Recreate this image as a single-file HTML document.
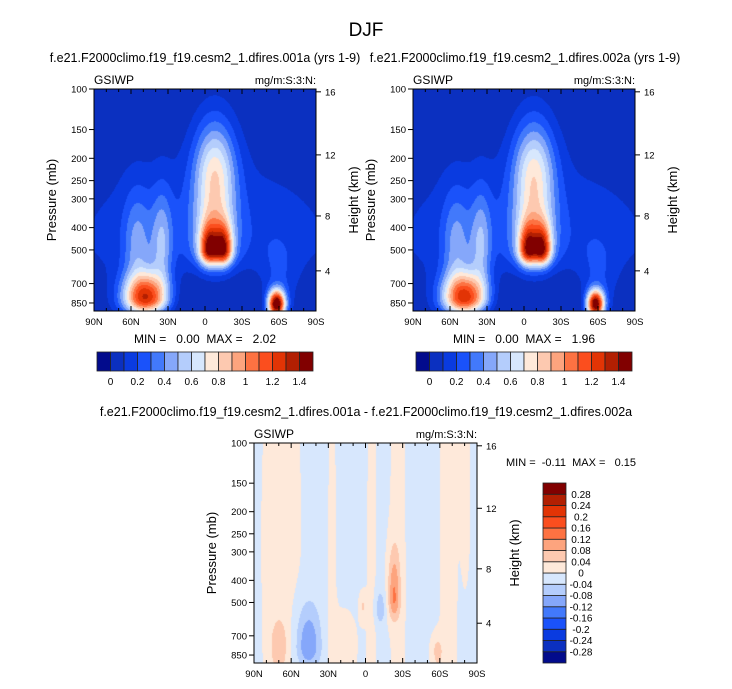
<!DOCTYPE html>
<html><head><meta charset="utf-8">
<style>
body{margin:0;background:#fff;width:732px;height:689px;overflow:hidden;position:relative;font-family:"Liberation Sans",Arial,sans-serif}
canvas{position:absolute;display:block}
svg{position:absolute;left:0;top:0}
text{white-space:pre}
</style></head>
<body>
<canvas id="c1" width="222" height="222" style="left:94px;top:89px"></canvas>
<canvas id="c2" width="222" height="222" style="left:413px;top:89px"></canvas>
<canvas id="c3" width="223" height="220" style="left:254px;top:443px"></canvas>
<svg id="ov" width="732" height="689"></svg>
<script>
// ---- data ----
const colors=['#020b8c','#0b30c0','#0a3be0','#1a52fa','#4279fb','#85a7fa','#b4cdfc','#d7e7fd','#fee9da','#fdc9b0','#fda47e','#fd7242','#fb4e1e','#e23405','#b21f02','#810000'];
const topLevels=[0,0.1,0.2,0.3,0.4,0.5,0.6,0.7,0.8,0.9,1.0,1.1,1.2,1.3,1.4];
const topLabels=['0','0.2','0.4','0.6','0.8','1','1.2','1.4'];
const diffLevels=[-0.28,-0.24,-0.2,-0.16,-0.12,-0.08,-0.04,0,0.04,0.08,0.12,0.16,0.2,0.24,0.28];
const diffLabels=['-0.28','-0.24','-0.2','-0.16','-0.12','-0.08','-0.04','0','0.04','0.08','0.12','0.16','0.2','0.24','0.28'];
const pTicks=[100,150,200,250,300,400,500,700,850];
const zTicks=[4,8,12,16];
const latTicks=[90,60,30,0,-30,-60,-90];
const latLabels=['90N','60N','30N','0','30S','60S','90S'];
// panel 1 field blobs
const b1Lat=[0,-8,-3,-15,-8,48,55,35,-58,-60,-5];
const b1P=[450,240,505,505,500,810,480,480,860,700,850];
const b1Amp=[0.2,0.7,0.8,0.85,0.3,1.25,0.3,0.35,1.5,0.15,-0.15];
const b1SLat=[80,12,5,5,11,13,8,6,5,10,30];
const b1SUp=[0.6,0.4,0.18,0.18,0.25,0.18,0.4,0.4,0.1,0.3,0.3];
const b1SDn=[0.35,0.55,0.1,0.1,0.1,0.12,0.3,0.3,0.1,0.3,0.5];
// panel 2 field blobs
const b2Lat=[0,-8,-3,-15,-8,48,55,35,-58,-60,-5];
const b2P=[450,240,505,505,500,810,480,480,860,700,850];
const b2Amp=[0.2,0.68,0.78,0.83,0.3,1.22,0.3,0.35,1.45,0.15,-0.15];
const b2SLat=[80,12,5,5,11,13,8,6,5,10,30];
const b2SUp=[0.6,0.4,0.18,0.18,0.25,0.18,0.4,0.4,0.1,0.3,0.3];
const b2SDn=[0.35,0.55,0.1,0.1,0.1,0.12,0.3,0.3,0.1,0.3,0.5];
// difference blobs
const dBase=-0.01;
const dLat=[68,27,-5,-26,-23,-67,-81,70,46,-58,-12,2,18];
const dP=[300,400,400,300,480,300,200,780,780,820,540,520,750];
const dAmp=[0.025,0.02,0.02,0.02,0.12,0.02,0.02,0.07,-0.11,0.06,-0.06,0.05,0.02];
const dSLat=[12,2.5,3,5,3.5,6,3,5,7,3.5,3,2,10];
const dSUp=[2,3,3,3,0.35,3,3,0.2,0.3,0.12,0.15,0.1,0.3];
const dSDn=[1.2,3,3,3,0.15,3,0.6,0.2,0.15,0.15,0.1,0.1,0.5];

const LN=Math.log(921/100);
function field(lat,p,base,La,P,A,SL,SU,SD){let v=base;for(let i=0;i<La.length;i++){const dl=(lat-La[i])/SL[i];const d=Math.log(p/P[i]);const dp=d/(d<0?SU[i]:SD[i]);v+=A[i]*Math.exp(-0.5*dl*dl-0.5*dp*dp);}return v;}
function idx(v,lev){let k=0;while(k<lev.length&&v>=lev[k])k++;return k;}
function hex(c){return [parseInt(c.slice(1,3),16),parseInt(c.slice(3,5),16),parseInt(c.slice(5,7),16)];}
const rgb=colors.map(hex);
function draw(id,base,La,P,A,SL,SU,SD,lev,floor){const cv=document.getElementById(id);const W=cv.width,H=cv.height;const ctx=cv.getContext('2d');const im=ctx.createImageData(W,H);
for(let y=0;y<H;y++){const p=100*Math.exp(LN*(y+0.5)/H);for(let x=0;x<W;x++){const lat=90-180*(x+0.5)/W;let v=field(lat,p,base,La,P,A,SL,SU,SD);if(floor!==undefined)v=Math.max(v,floor);const k=idx(v,lev);const c=rgb[k];const o=(y*W+x)*4;im.data[o]=c[0];im.data[o+1]=c[1];im.data[o+2]=c[2];im.data[o+3]=255;}}
ctx.putImageData(im,0,0);}
draw('c1',0,b1Lat,b1P,b1Amp,b1SLat,b1SUp,b1SDn,topLevels,0.01);
draw('c2',0,b2Lat,b2P,b2Amp,b2SLat,b2SUp,b2SDn,topLevels,0.01);
draw('c3',dBase,dLat,dP,dAmp,dSLat,dSUp,dSDn,diffLevels);

// ---- overlay ----
const NS='http://www.w3.org/2000/svg';const ov=document.getElementById('ov');
function el(t,a,txt){const e=document.createElementNS(NS,t);for(const k in a)e.setAttribute(k,a[k]);if(txt!==undefined)e.textContent=txt;ov.appendChild(e);return e;}
function txt(x,y,s,size,anchor,name,rot){const e=el('text',{x:x,y:y,'font-size':size,'text-anchor':anchor||'middle',fill:'#000'},s);if(rot)e.setAttribute('transform','rotate(-90 '+x+' '+y+')');


return e;}
function zToP(z){return z<=11?1013.25*Math.pow(1-z/44.33,5.256):226.3*Math.exp(-(z-11)/6.3416);}
function axes(L,T,W,H,pre){
 const yP=p=>T+H*Math.log(p/100)/LN;const xL=l=>L+W*(90-l)/180;
 const fr=el('rect',{x:L,y:T,width:W,height:H,fill:'none',stroke:'#000','stroke-width':1});
 
 
 pTicks.forEach(p=>{const y=yP(p);el('line',{x1:L-5,x2:L,y1:y,y2:y,stroke:'#000'});txt(L-7,y+3.5,String(p),9.5,'end',pre+'-pressure-tick-label');});
 zTicks.forEach(z=>{const y=yP(zToP(z));el('line',{x1:L+W,x2:L+W+5,y1:y,y2:y,stroke:'#000'});txt(L+W+9,y+3.5,String(z),9.5,'start',pre+'-height-tick-label');});
 for(let l=90;l>=-90;l-=10){const x=xL(l);const maj=l%30===0;el('line',{x1:x,x2:x,y1:T+H,y2:T+H-(maj?5:3),stroke:'#000'});el('line',{x1:x,x2:x,y1:T,y2:T+(maj?5:3),stroke:'#000'});}
 latTicks.forEach((l,i)=>txt(xL(l),T+H+14,latLabels[i],9.5,'middle',pre+'-lat-tick-label'));
 txt(L-38,T+H/2,'Pressure (mb)',13,'middle',pre+'-y-axis-title',true);
 txt(L+W+42,T+H/2,'Height (km)',13,'middle',pre+'-right-axis-title',true);
 txt(L,T-5,'GSIWP',12,'start',pre+'-variable-label');
 txt(L+W,T-5,'mg/m:S:3:N:',11,'end',pre+'-units-label');
}
axes(94,89,222,222,'panel1');axes(413,89,222,222,'panel2');axes(254,443,223,220,'diff');
txt(366,36,'DJF',19,'middle','main-title');
txt(205,62,'f.e21.F2000climo.f19_f19.cesm2_1.dfires.001a (yrs 1-9)',12.5,'middle','panel1-title');
txt(525,62,'f.e21.F2000climo.f19_f19.cesm2_1.dfires.002a (yrs 1-9)',12.5,'middle','panel2-title');
txt(366,416,'f.e21.F2000climo.f19_f19.cesm2_1.dfires.001a - f.e21.F2000climo.f19_f19.cesm2_1.dfires.002a',12.5,'middle','diff-title');
txt(205,343,'MIN =   0.00  MAX =   2.02',12,'middle','panel1-minmax');
txt(524,343,'MIN =   0.00  MAX =   1.96',12,'middle','panel2-minmax');
txt(506,466,'MIN =  -0.11  MAX =   0.15',11,'start','diff-minmax');
function hbar(L,T,W,H,pre){const bw=W/colors.length;colors.forEach((c,i)=>{const r=el('rect',{x:L+i*bw,y:T,width:bw,height:H,fill:c,stroke:'#222','stroke-width':0.8});

});
 topLabels.forEach((s,i)=>txt(L+bw*(1+2*i),T+H+14,s,10,'middle',pre+'-colorbar-label'));}
hbar(97,352,216,19,'panel1');hbar(416,352,216,19,'panel2');
(function(){const L=543,T=483,W=23,H=180,bh=H/colors.length;colors.forEach((c,i)=>{const r=el('rect',{x:L,y:T+H-(i+1)*bh,width:W,height:bh,fill:c,stroke:'#222','stroke-width':0.8});

});
 diffLabels.forEach((s,i)=>txt(L+W+15,T+H-(i+1)*bh+3.5,s,10,'middle','diff-colorbar-label'));})();
</script>
</body></html>
